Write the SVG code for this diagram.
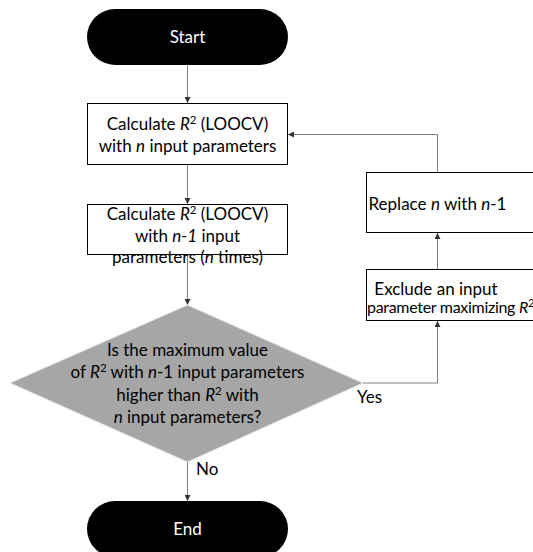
<svg xmlns="http://www.w3.org/2000/svg" width="533" height="552" viewBox="0 0 533 552">
<defs>
<marker id="ah" viewBox="0 0 6 6" refX="6" refY="3" markerWidth="6" markerHeight="6" markerUnits="userSpaceOnUse" orient="auto">
<path d="M0,0 L6,3 L0,6 Z" fill="#333"/>
</marker>
<style>
text{font-family:Lato,"Open Sans","Liberation Sans",sans-serif;font-size:17px;fill:#000}
.w{fill:#fff}
.c{text-anchor:middle}
.box{fill:#fff;stroke:#000;stroke-width:1}
.pill{fill:#000}
.dia{fill:#a6a6a6;stroke:#e8e8e8;stroke-width:1}
.ln{fill:none;stroke:#808080;stroke-width:1;marker-end:url(#ah)}
.sup{font-size:11.5px}
.tight{font-size:16px;letter-spacing:-0.3px}
</style>
</defs>
<g id="connectors">
<path class="ln" d="M187.5,65 V103"/>
<path class="ln" d="M187.5,165 V204"/>
<path class="ln" d="M187.5,255 V305"/>
<path class="ln" d="M187.5,462 V501"/>
<path class="ln" d="M363,383 H437.5 V321"/>
<path class="ln" d="M437.5,269 V233"/>
<path class="ln" d="M437.5,172 V134.5 H288"/>
<text x="196" y="475">No</text>
<text x="357" y="403">Yes</text>
</g>
<g id="start">
<rect class="pill" x="87" y="9" width="201" height="56" rx="28"/>
<text class="w c" x="187.5" y="43">Start</text>
</g>
<g id="calc1">
<rect class="box" x="87.5" y="103.5" width="200" height="61"/>
<text class="c" x="187.5" y="130">Calculate <tspan font-style="italic">R</tspan><tspan class="sup" dy="-6">2</tspan><tspan dy="6"> (LOOCV)</tspan></text>
<text class="c" x="187.5" y="152">with <tspan font-style="italic">n</tspan> input parameters</text>
</g>
<g id="calc2">
<rect class="box" x="87.5" y="204.5" width="200" height="50"/>
<text class="c" x="187.5" y="220">Calculate <tspan font-style="italic">R</tspan><tspan class="sup" dy="-6">2</tspan><tspan dy="6"> (LOOCV)</tspan></text>
<text class="c" x="187.5" y="242">with <tspan font-style="italic">n-1</tspan> input</text>
<text class="c" x="187.5" y="263">parameters (<tspan font-style="italic">n</tspan> times)</text>
</g>
<g id="decision">
<path class="dia" d="M187.5,305 L363,383 L187.5,462 L10,383 Z"/>
<text class="c" x="187.5" y="356">Is the maximum value</text>
<text class="c" x="187.5" y="378">of <tspan font-style="italic">R</tspan><tspan class="sup" dy="-6">2</tspan><tspan dy="6"> with </tspan><tspan font-style="italic">n</tspan>-1 input parameters</text>
<text class="c" x="187.5" y="401">higher than <tspan font-style="italic">R</tspan><tspan class="sup" dy="-6">2</tspan><tspan dy="6"> with</tspan></text>
<text class="c" x="187.5" y="423"><tspan font-style="italic">n</tspan> input parameters?</text>
</g>
<g id="replace">
<rect class="box" x="366.5" y="172.5" width="180" height="60"/>
<text class="c" x="437.5" y="210">Replace <tspan font-style="italic">n</tspan> with <tspan font-style="italic">n</tspan>-1</text>
</g>
<g id="exclude">
<rect class="box" x="366.5" y="269.5" width="180" height="51"/>
<text class="c" x="436" y="295">Exclude an input</text>
<text class="tight" x="367" y="313">parameter maximizing <tspan font-style="italic">R</tspan><tspan class="sup" dy="-6">2</tspan></text>
</g>
<g id="end">
<rect class="pill" x="87" y="501" width="201" height="56" rx="28"/>
<text class="w c" x="187.5" y="535">End</text>
</g>
</svg>
